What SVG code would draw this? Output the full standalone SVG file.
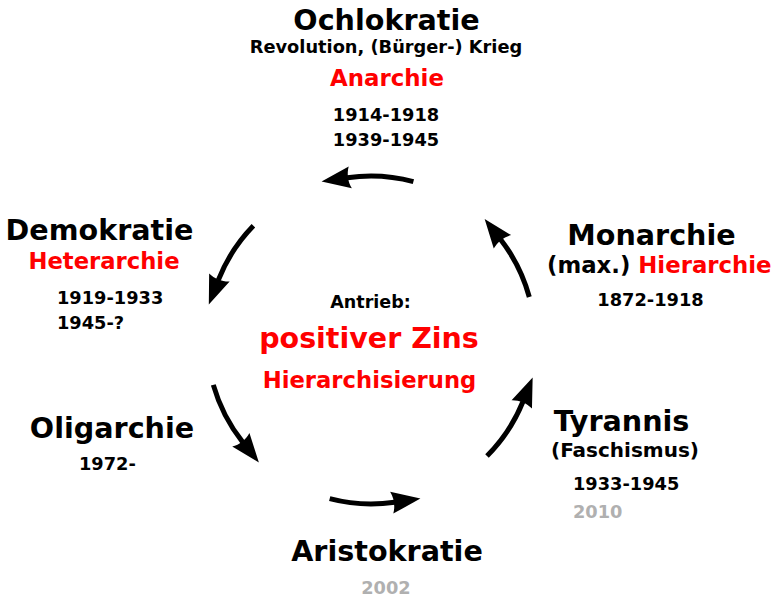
<svg xmlns="http://www.w3.org/2000/svg" width="771" height="597" viewBox="0 0 771 597">
<style>
text{font-family:"DejaVu Sans","Liberation Sans",sans-serif;font-weight:bold;fill:#000}
.t{font-size:28.6px;text-anchor:middle}
.r{fill:#ff0000}
.y{font-size:17.8px}
.g{fill:#b0b0b0}
.m{text-anchor:middle}
.arc{fill:none;stroke:#000;stroke-width:5;marker-end:url(#ah)}
</style>
<defs>
<marker id="ah" markerUnits="userSpaceOnUse" orient="auto" refX="0" refY="0" markerWidth="40" markerHeight="40" viewBox="-10 -20 40 40" overflow="visible">
<path d="M26,0 L-3,-11 C0,-4 0,4 -3,11 Z" fill="#000"/>
</marker>
</defs>
<rect width="771" height="597" fill="#fff"/>
<g id="connectors">
<path class="arc" d="M413.4,181.6 A164,164 0 0 0 347.3,177.7"/>
<path class="arc" d="M253.4,225.7 A164,164 0 0 0 218.3,280.2"/>
<path class="arc" d="M213.3,384.9 A164,164 0 0 0 242.7,442.1"/>
<path class="arc" d="M329.7,498.7 A164,164 0 0 0 394.7,502.3"/>
<path class="arc" d="M487,456 A164,164 0 0 0 522.9,401.7"/>
<path class="arc" d="M529.3,297 A164,164 0 0 0 500.6,239.5"/>
</g>
<g id="ochlokratie">
<text class="t" x="386.5" y="30">Ochlokratie</text>
<text class="m" x="386" y="53" font-size="17.8">Revolution, (Bürger-) Krieg</text>
<text class="m r" x="387" y="86" font-size="22.9">Anarchie</text>
<text class="m y" x="386" y="121">1914-1918</text>
<text class="m y" x="386" y="146">1939-1945</text>
</g>
<g id="demokratie">
<text class="t" x="99.5" y="240">Demokratie</text>
<text class="m r" x="104" y="269" font-size="22.7">Heterarchie</text>
<text class="y" x="57" y="304">1919-1933</text>
<text class="y" x="57" y="329">1945-?</text>
</g>
<g id="monarchie">
<text class="t" x="651.5" y="245">Monarchie</text>
<text x="547" y="273" font-size="22.8">(max.) <tspan class="r">Hierarchie</tspan></text>
<text class="m y" x="650.5" y="306">1872-1918</text>
</g>
<g id="antrieb">
<text class="m" x="370.5" y="308" font-size="17.5">Antrieb:</text>
<text class="m r" x="369" y="348" font-size="28.5">positiver Zins</text>
<text class="m r" x="369.5" y="388" font-size="22.7">Hierarchisierung</text>
</g>
<g id="oligarchie">
<text class="t" x="112" y="438">Oligarchie</text>
<text class="y" x="79" y="470">1972-</text>
</g>
<g id="tyrannis">
<text class="t" x="621.5" y="431">Tyrannis</text>
<text class="m" x="625" y="457" font-size="20">(Faschismus)</text>
<text class="y" x="573" y="490">1933-1945</text>
<text class="y g" x="573" y="518">2010</text>
</g>
<g id="aristokratie">
<text class="t" x="387" y="561">Aristokratie</text>
<text class="m y g" x="386" y="594">2002</text>
</g>
</svg>
